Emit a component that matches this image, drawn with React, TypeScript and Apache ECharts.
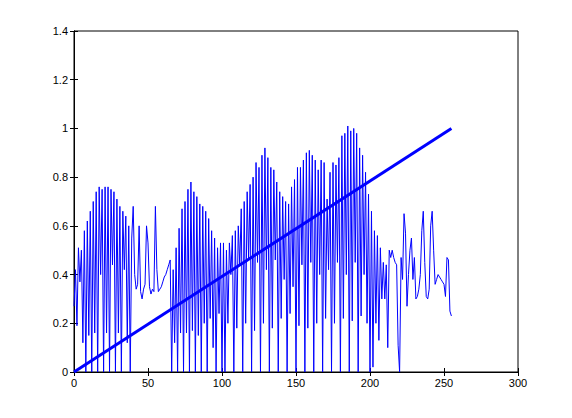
import React, { useEffect, useRef } from "react";
import * as echarts from "echarts";

// Thin oscillating signal, sample index 0..255
const signal: number[] = [
  0.27, 0.42, 0.19, 0.51, 0.37, 0.50, 0.12, 0.58, 0.00, 0.62, 0.15, 0.66, 0.00, 0.70, 0.16, 0.74,
  0.00, 0.76, 0.40, 0.75, 0.00, 0.76, 0.16, 0.76, 0.00, 0.75, 0.44, 0.74, 0.00, 0.71, 0.16, 0.68,
  0.00, 0.66, 0.42, 0.64, 0.12, 0.60, 0.00, 0.55, 0.68, 0.40, 0.34, 0.36, 0.60, 0.33, 0.30, 0.34,
  0.36, 0.60, 0.53, 0.35, 0.32, 0.34, 0.33, 0.68, 0.42, 0.33, 0.34, 0.35, 0.37, 0.39, 0.40, 0.42,
  0.44, 0.46, 0.00, 0.42, 0.12, 0.51, 0.00, 0.59, 0.16, 0.67, 0.00, 0.70, 0.16, 0.75, 0.00, 0.78,
  0.17, 0.74, 0.00, 0.72, 0.15, 0.69, 0.00, 0.68, 0.20, 0.66, 0.00, 0.63, 0.22, 0.58, 0.10, 0.55,
  0.00, 0.51, 0.24, 0.53, 0.00, 0.53, 0.00, 0.50, 0.20, 0.53, 0.40, 0.56, 0.00, 0.58, 0.18, 0.60,
  0.44, 0.67, 0.00, 0.70, 0.20, 0.74, 0.46, 0.77, 0.00, 0.80, 0.17, 0.86, 0.45, 0.84, 0.00, 0.89,
  0.20, 0.92, 0.42, 0.88, 0.00, 0.84, 0.18, 0.83, 0.46, 0.78, 0.00, 0.74, 0.22, 0.72, 0.38, 0.70,
  0.00, 0.69, 0.24, 0.76, 0.35, 0.79, 0.00, 0.84, 0.19, 0.84, 0.44, 0.87, 0.00, 0.90, 0.18, 0.91,
  0.45, 0.89, 0.00, 0.87, 0.20, 0.83, 0.40, 0.87, 0.00, 0.86, 0.22, 0.71, 0.42, 0.82, 0.00, 0.86,
  0.20, 0.85, 0.45, 0.88, 0.00, 0.97, 0.22, 0.98, 0.40, 1.01, 0.00, 0.99, 0.21, 1.00, 0.45, 0.98,
  0.00, 0.92, 0.23, 0.89, 0.40, 0.82, 0.20, 0.73, 0.00, 0.66, 0.02, 0.58, 0.20, 0.56, 0.13, 0.51,
  0.30, 0.45, 0.30, 0.44, 0.10, 0.50, 0.47, 0.50, 0.47, 0.45, 0.44, 0.11, 0.00, 0.47, 0.38, 0.65,
  0.57, 0.27, 0.40, 0.50, 0.55, 0.38, 0.47, 0.30, 0.31, 0.34, 0.40, 0.58, 0.66, 0.45, 0.31, 0.30,
  0.34, 0.60, 0.66, 0.50, 0.36, 0.38, 0.40, 0.39, 0.38, 0.37, 0.36, 0.31, 0.47, 0.46, 0.25, 0.23,
];

// Thick straight ramp line endpoints
const rampX: number[] = [0, 255];
const rampY: number[] = [0, 1];

const xTicks = { min: 0, max: 300, interval: 50 };
const yTicks = { min: 0, max: 1.4, interval: 0.2 };

export default function App() {
  const ref = useRef<HTMLDivElement>(null);
  useEffect(() => {
    if (!ref.current) return;
    const chart = echarts.init(ref.current, undefined, { renderer: "svg" });
    const font = "'Liberation Sans', Arial, Helvetica, sans-serif";
    const labelStyle = { color: "#000", fontSize: 11, fontFamily: font };
    const tick = { show: true, inside: true, length: 4, lineStyle: { color: "#000", width: 1 } };
    const line = { show: true, lineStyle: { color: "#000", width: 1 } };
    chart.setOption({
      animation: false,
      backgroundColor: "#fff",
      grid: {
        left: 74,
        right: 54,
        top: 31,
        bottom: 46,
        show: true,
        borderColor: "#000",
        borderWidth: 1,
        backgroundColor: "transparent",
      },
      xAxis: [
        {
          type: "value",
          position: "bottom",
          ...xTicks,
          axisLine: line,
          axisTick: tick,
          axisLabel: { ...labelStyle, margin: 5 },
          splitLine: { show: false },
        },
        {
          type: "value",
          position: "top",
          ...xTicks,
          axisLine: line,
          axisTick: tick,
          axisLabel: { show: false },
          splitLine: { show: false },
        },
      ],
      yAxis: [
        {
          type: "value",
          position: "left",
          ...yTicks,
          axisLine: line,
          axisTick: tick,
          axisLabel: { ...labelStyle, margin: 6 },
          splitLine: { show: false },
        },
        {
          type: "value",
          position: "right",
          ...yTicks,
          axisLine: line,
          axisTick: tick,
          axisLabel: { show: false },
          splitLine: { show: false },
        },
      ],
      series: [
        {
          type: "line",
          data: signal.map((v, i) => [i, v]),
          showSymbol: false,
          lineStyle: { color: "#0000ff", width: 1 },
          itemStyle: { color: "#0000ff" },
          silent: true,
          z: 2,
        },
        {
          type: "line",
          data: rampX.map((x, i) => [x, rampY[i]]),
          showSymbol: false,
          lineStyle: { color: "#0000ff", width: 3 },
          itemStyle: { color: "#0000ff" },
          silent: true,
          z: 3,
        },
      ],
    });
    return () => chart.dispose();
  }, []);
  return (
    <div
      ref={ref}
      style={{ position: "fixed", left: 0, top: 0, width: 572, height: 418, background: "#fff" }}
    />
  );
}
